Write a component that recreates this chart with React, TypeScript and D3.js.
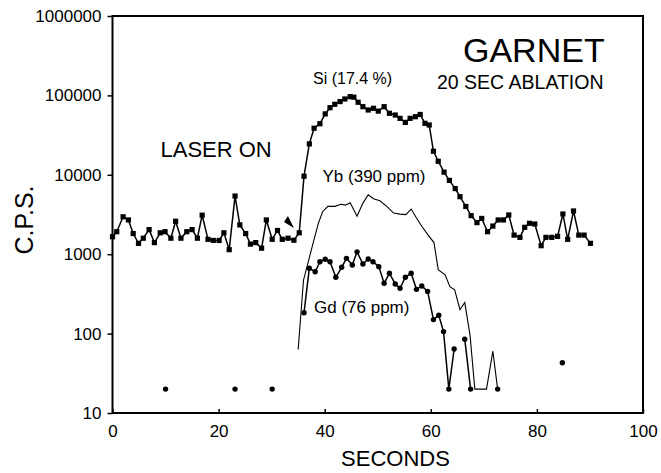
import { useEffect, useRef } from "react";
import * as d3 from "d3";

// Si (squares) - seconds / counts per second
const siTime = [
  0, 0.8, 2, 3, 3.9, 4.9, 5.8, 6.9, 7.9, 9, 9.9, 11, 11.9, 12.9, 14, 15, 16, 16.9, 18, 19,
  20.1, 21, 22, 23.1, 24, 25.1, 26, 27, 28.1, 29, 30.1, 31.1, 32, 33.1, 34.2, 35.2,
  36.1, 37.1, 38, 39.1, 40.1, 41, 41.9, 42.9, 43.8, 44.8, 45.5, 46.3, 47.2, 48.2, 49.2, 50.1,
  51.2, 52.2, 53.3, 54.2, 55.2, 56.1, 57.1, 58, 58.9, 59.7, 60.5, 61.4, 62.5, 63.5, 64.6, 65.5,
  66.6, 67.6, 68.7, 69.6, 70.7, 71.7, 72.7, 73.7, 74.7, 75.7, 76.8, 77.7, 78.6, 79.6, 80.8,
  81.7, 82.8, 83.9, 84.9, 85.8, 86.9, 87.9, 88.9, 90.1,
];
const siCps = [
  1660, 1920, 2960, 2700, 1820, 1370, 1590, 2040, 1400, 1860, 1920, 1590, 2600, 1590, 1920, 2040, 1590, 3100, 1540, 1490,
  1490, 1860, 1140, 5400, 2340, 1820, 1340, 1400, 1190, 2700, 1540, 1990, 1540, 1590, 1500, 1860,
  9600, 24500, 38600, 44000, 58500, 70000, 77300, 83600, 90100, 96400, 95000, 82000, 72100, 65500, 68800, 63400,
  72100, 59500, 56600, 51400, 45700, 51400, 53900, 57500, 44500, 42400, 19800, 14800, 10800, 8500, 6700, 5300,
  3990, 3060, 2500, 2820, 1920, 2260, 2700, 2700, 3120, 1740, 1630, 2180, 2450, 2400, 1280,
  1630, 1630, 1680, 3210, 1540, 3500, 1740, 1740, 1370,
];

// Yb (plain line)
const ybTime = [
  35, 36, 36.9, 37.8, 38.8, 39.6, 40.6, 41.9, 43.1, 43.9, 44.8, 46.1, 47.2, 48.2, 49.2, 50.4,
  51.7, 53, 54.2, 55.3, 56.3, 57.3, 58.3, 59.5, 60.6, 61.4, 62.7, 63.6, 64.5, 65.5, 66.4, 67.4,
  68.3, 70.5, 71.7, 72.6,
];
const ybCps = [
  63, 470, 800, 1370, 2450, 3430, 4000, 4000, 4250, 4150, 4450, 3000, 4400, 5600, 5000, 4700,
  4000, 3300, 3200, 3150, 3700, 2850, 2250, 1740, 1400, 640, 550, 390, 355, 200, 246, 95,
  20, 20, 60, 20,
];

// Gd (dots); null = zero counts, not plotted on the log axis
const gdTime = [
  10, 11, 23.1, 24, 30.1, 31,
  36.1, 37.1, 38.2, 39.1, 40.1, 41, 42.1, 43.2, 44.1, 45.2, 46.1, 47.2, 48.2, 49.1, 50.2,
  51.2, 52.2, 53.3, 54.2, 55.2, 56.3, 57.3, 58.3, 59.4, 60.5, 61.5, 62.4, 63.4, 64.4, 65.4,
  66.4, 67.5, 68.5, 72.6, 73.5, 84.8,
];
const gdCps: (number | null)[] = [
  20, null, 20, null, 20, null,
  183, 664, 602, 804, 863, 804, 512, 684, 887, 731, 1070, 753, 871, 804, 697,
  430, 575, 422, 372, 512, 575, 361, 398, 340, 150, 170, 106, 20, 64, null,
  85, 20, null, 20, null, 43,
];

const xTicks = [0, 20, 40, 60, 80, 100];
const yTicks = [10, 100, 1000, 10000, 100000, 1000000];
const laserOnAt: [number, number] = [34.2, 2140];

const FONT = "'Liberation Sans', Arial, Helvetica, sans-serif";

export default function App() {
  const svgRef = useRef<SVGSVGElement>(null);

  useEffect(() => {
    if (!svgRef.current) return;
    const svg = d3.select(svgRef.current);
    svg.selectAll("*").remove();

    const x = d3.scaleLinear().domain([0, 100]).range([112.5, 643]);
    const y = d3.scaleLog().domain([10, 1000000]).range([413, 16]);

    svg.append("rect").attr("width", 661).attr("height", 473).attr("fill", "#fff");

    // frame
    svg
      .append("rect")
      .attr("x", x(0))
      .attr("y", y(1000000))
      .attr("width", x(100) - x(0))
      .attr("height", y(10) - y(1000000))
      .attr("fill", "none")
      .attr("stroke", "#000")
      .attr("stroke-width", 2);

    // Y axis
    svg
      .append("g")
      .attr("transform", `translate(${x(0)},0)`)
      .call(d3.axisLeft(y).tickValues(yTicks).tickFormat((d) => String(d)).tickSize(5).tickPadding(6))
      .call((g) => g.select(".domain").remove())
      .call((g) => g.selectAll(".tick line").attr("stroke", "#000").attr("stroke-width", 1.5))
      .call((g) =>
        g.selectAll(".tick text").attr("fill", "#000").style("font-family", FONT).style("font-size", "17px")
      );

    // X axis (ticks point inward)
    svg
      .append("g")
      .attr("transform", `translate(0,${y(10)})`)
      .call(d3.axisBottom(x).tickValues(xTicks).tickSize(-4).tickPadding(12))
      .call((g) => g.select(".domain").remove())
      .call((g) => g.selectAll(".tick line").attr("stroke", "#000").attr("stroke-width", 1.5))
      .call((g) =>
        g.selectAll(".tick text").attr("fill", "#000").style("font-family", FONT).style("font-size", "17px")
      );

    type Pt = [number, number | null];
    const line = d3
      .line<Pt>()
      .defined((d) => d[1] != null)
      .x((d) => x(d[0]))
      .y((d) => y(d[1] as number));

    const si: Pt[] = siTime.map((t, i) => [t, siCps[i]]);
    const yb: Pt[] = ybTime.map((t, i) => [t, ybCps[i]]);
    const gd: Pt[] = gdTime.map((t, i) => [t, gdCps[i]]);

    // Yb
    svg
      .append("path")
      .attr("d", line(yb))
      .attr("fill", "none")
      .attr("stroke", "#000")
      .attr("stroke-width", 1.1);

    // Si
    svg
      .append("path")
      .attr("d", line(si))
      .attr("fill", "none")
      .attr("stroke", "#000")
      .attr("stroke-width", 1.5);
    svg
      .selectAll(".si-mark")
      .data(si)
      .enter()
      .append("rect")
      .attr("class", "si-mark")
      .attr("x", (d) => x(d[0]) - 2.6)
      .attr("y", (d) => y(d[1] as number) - 2.6)
      .attr("width", 5.2)
      .attr("height", 5.2)
      .attr("fill", "#000");

    // Gd
    svg
      .append("path")
      .attr("d", line(gd))
      .attr("fill", "none")
      .attr("stroke", "#000")
      .attr("stroke-width", 1.5);
    svg
      .selectAll(".gd-mark")
      .data(gd.filter((d) => d[1] != null))
      .enter()
      .append("circle")
      .attr("class", "gd-mark")
      .attr("cx", (d) => x(d[0]))
      .attr("cy", (d) => y(d[1] as number))
      .attr("r", 2.7)
      .attr("fill", "#000");

    // laser-on arrowhead
    const ax = x(laserOnAt[0]);
    const ay = y(laserOnAt[1]);
    svg
      .append("path")
      .attr("d", `M${ax},${ay} L${ax - 10},${ay - 6} L${ax - 6},${ay - 12} Z`)
      .attr("fill", "#000");

    const label = (txt: string, px: number, py: number, size: number, anchor = "start") =>
      svg
        .append("text")
        .attr("x", px)
        .attr("y", py)
        .attr("text-anchor", anchor)
        .attr("fill", "#000")
        .style("font-family", FONT)
        .style("font-size", `${size}px`)
        .text(txt);

    label("GARNET", 463, 62, 34);
    label("20 SEC ABLATION", 437, 89, 19.5);
    label("LASER ON", 160.5, 157, 22);
    label("Si (17.4 %)", 313, 84, 16);
    label("Yb (390 ppm)", 322.5, 182, 17);
    label("Gd (76 ppm)", 314, 313, 17);
    label("SECONDS", 395.5, 466, 22, "middle");

    svg
      .append("text")
      .attr("transform", "translate(33,220) rotate(-90)")
      .attr("text-anchor", "middle")
      .attr("fill", "#000")
      .style("font-family", FONT)
      .style("font-size", "25px")
      .text("C.P.S.");
  }, []);

  return (
    <>
      <style>{`body{margin:0}`}</style>
      <svg ref={svgRef} width={661} height={473} style={{ display: "block" }} />
    </>
  );
}
